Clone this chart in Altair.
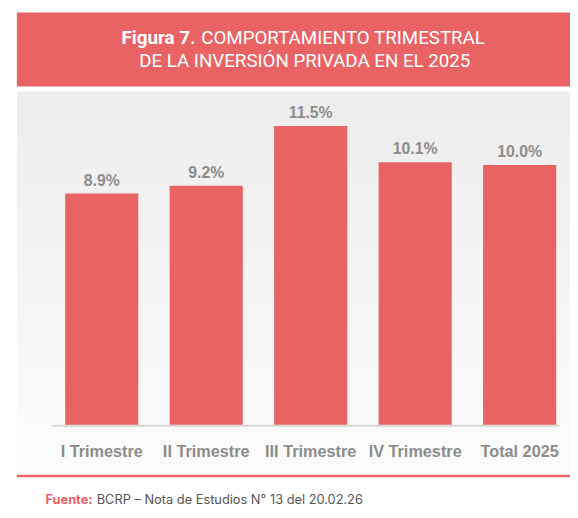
import altair as alt
import pandas as pd

# ---- data ----
categories = ["I Trimestre", "II Trimestre", "III Trimestre", "IV Trimestre", "Total 2025"]
values = [8.9, 9.2, 11.5, 10.1, 10.0]
value_labels = ["8.9%", "9.2%", "11.5%", "10.1%", "10.0%"]

title_bold = "Figura 7."
title_line1 = "COMPORTAMIENTO TRIMESTRAL"
title_line2 = "DE LA INVERSIÓN PRIVADA EN EL 2025"
source_bold = "Fuente:"
source_text = "BCRP – Nota de Estudios N° 13 del 20.02.26"

RED = "#E96365"
GRAY_TXT = "#8C8C8C"

df = pd.DataFrame({"cat": categories, "val": values, "lab": value_labels})
one = pd.DataFrame({"k": [0]})

W, H = 570, 505

xs = alt.X("cat:N", sort=categories, axis=None,
           scale=alt.Scale(range=[58, 556], paddingInner=0.3, paddingOuter=0))
ys = alt.Y("val:Q", axis=None,
           scale=alt.Scale(domain=[0, 11.5], range=[419, 116], nice=False, zero=True))

band = alt.Chart(one).mark_rect(color=RED).encode(
    x=alt.value(9), x2=alt.value(W), y=alt.value(1), y2=alt.value(76))

panel = alt.Chart(one).mark_rect(
    fill=alt.LinearGradient(
        gradient="linear",
        stops=[alt.GradientStop(color="#EDEDED", offset=0),
               alt.GradientStop(color="#FCFCFC", offset=1)],
        x1=0, x2=0, y1=0, y2=1)
).encode(x=alt.value(9), x2=alt.value(W), y=alt.value(81), y2=alt.value(470))

red_line = alt.Chart(one).mark_rule(color=RED, strokeWidth=2.5).encode(
    x=alt.value(9), x2=alt.value(W), y=alt.value(471))

axis_line = alt.Chart(one).mark_rule(color="#D6D6D6", strokeWidth=2).encode(
    x=alt.value(45), x2=alt.value(559), y=alt.value(420))

bars = alt.Chart(df).mark_bar(color=RED).encode(x=xs, y=ys)

bar_labels = alt.Chart(df).mark_text(
    font="Liberation Sans", fontSize=16, fontWeight="bold", color=GRAY_TXT,
    baseline="alphabetic", dy=-8
).encode(x=xs, y=ys, text="lab:N")

cat_labels = alt.Chart(df).mark_text(
    font="Liberation Sans", fontSize=16.5, fontWeight="bold", color=GRAY_TXT,
    baseline="alphabetic"
).encode(x=xs, y=alt.value(452), text="cat:N")

t_bold = alt.Chart(one).mark_text(
    text=title_bold, font="Roboto", fontSize=19, fontWeight="bold", color="white",
    align="right", baseline="alphabetic"
).encode(x=alt.value(190), y=alt.value(33))

t_line1 = alt.Chart(one).mark_text(
    text=title_line1, font="Roboto", fontSize=19, fontWeight="normal", color="white",
    align="left", baseline="alphabetic"
).encode(x=alt.value(196), y=alt.value(33))

t_line2 = alt.Chart(one).mark_text(
    text=title_line2, font="Roboto", fontSize=19, fontWeight="normal", color="white",
    align="center", baseline="alphabetic"
).encode(x=alt.value(301), y=alt.value(56))

s_bold = alt.Chart(one).mark_text(
    text=source_bold, font="Inter", fontSize=13, fontWeight="bold", color=RED,
    align="left", baseline="alphabetic"
).encode(x=alt.value(38), y=alt.value(499))

s_text = alt.Chart(one).mark_text(
    text=source_text, font="Inter", fontSize=13, fontWeight="normal", color="#555555",
    align="left", baseline="alphabetic"
).encode(x=alt.value(90), y=alt.value(499))

chart = alt.layer(
    band, panel, red_line, axis_line, bars, bar_labels, cat_labels,
    t_bold, t_line1, t_line2, s_bold, s_text
).properties(
    width=W, height=H, padding=0, autosize=alt.AutoSizeParams(type="none"),
    background="white"
).configure_view(stroke=None)

chart.save("out.html", embed_options={"renderer": "svg", "actions": False})
